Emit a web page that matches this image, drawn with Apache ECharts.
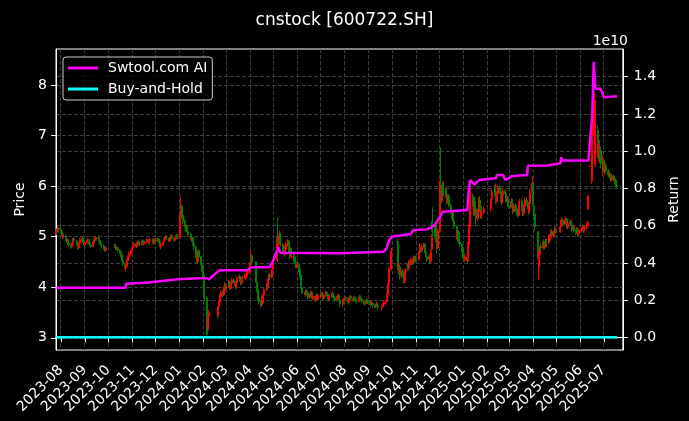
<!DOCTYPE html>
<html><head><meta charset="utf-8">
<script src="https://cdn.jsdelivr.net/npm/echarts@6/dist/echarts.min.js"></script>
<style>html,body{margin:0;padding:0;background:#000;}#c{width:689px;height:421px;}</style>
</head><body><div id="c"></div>
<script>
const titleText = 'cnstock [600722.SH]';
const axisStart = '2023-07-26';
const axisEnd = '2025-07-25';
const marketHolidays = ['2023-09-29','2023-10-02','2023-10-03','2023-10-04','2023-10-05','2023-10-06',
  '2024-01-01','2024-02-09','2024-02-12','2024-02-13','2024-02-14','2024-02-15','2024-02-16',
  '2024-04-04','2024-04-05','2024-05-01','2024-05-02','2024-05-03','2024-06-10','2024-09-16','2024-09-17',
  '2024-10-01','2024-10-02','2024-10-03','2024-10-04','2024-10-07','2025-01-01',
  '2025-01-28','2025-01-29','2025-01-30','2025-01-31','2025-02-03','2025-02-04',
  '2025-04-04','2025-05-01','2025-05-02','2025-05-05','2025-06-02'];

// daily candles [open, close, low, high], one per trading day from 2023-07-26
const candleOHLC = [
// 2023-07
[5.06,5.12,5.03,5.15],[5.12,5.10,5.06,5.16],[5.10,5.18,5.08,5.21],[5.17,5.14,5.10,5.20],
// 2023-08
[5.14,5.10,5.06,5.16],[5.10,5.04,5.00,5.12],[5.04,5.00,4.96,5.06],[5.00,5.03,4.97,5.06],[5.02,4.96,4.93,5.04],
[4.96,4.92,4.88,4.98],[4.92,4.95,4.89,4.98],[4.94,4.88,4.84,4.96],[4.88,4.84,4.80,4.90],[4.84,4.80,4.76,4.86],
[4.80,4.86,4.78,4.89],[4.86,4.92,4.84,4.95],[4.92,4.97,4.90,5.00],[4.96,4.92,4.89,4.99],[4.92,4.87,4.84,4.94],
[4.87,4.83,4.79,4.89],[4.83,4.78,4.74,4.85],[4.78,4.86,4.76,4.90],[4.86,4.93,4.84,4.96],[4.93,4.97,4.90,5.00],
[4.97,4.91,4.88,4.99],[4.91,4.87,4.84,4.93],[4.87,4.84,4.80,4.89],
// 2023-09
[4.84,4.88,4.82,4.91],[4.88,4.92,4.86,4.95],[4.92,4.94,4.89,4.97],[4.94,4.88,4.85,4.96],[4.88,4.83,4.80,4.90],
[4.83,4.81,4.77,4.86],[4.81,4.87,4.79,4.90],[4.87,4.92,4.85,4.95],[4.92,4.96,4.90,4.99],[4.96,4.93,4.90,4.98],
[4.93,4.98,4.91,5.01],[4.98,4.97,4.93,5.03],[4.97,4.92,4.89,4.99],[4.92,4.88,4.85,4.94],[4.88,4.85,4.82,4.90],
[4.85,4.82,4.78,4.87],[4.82,4.78,4.75,4.84],[4.78,4.75,4.71,4.80],[4.75,4.73,4.70,4.78],[4.73,4.78,4.71,4.81],
// 2023-10
[4.80,4.83,4.78,4.86],[4.83,4.80,4.77,4.85],[4.80,4.76,4.73,4.82],[4.76,4.78,4.74,4.81],[4.78,4.73,4.70,4.80],
[4.73,4.69,4.66,4.75],[4.69,4.64,4.60,4.71],[4.64,4.60,4.56,4.66],[4.60,4.53,4.49,4.62],[4.53,4.48,4.43,4.55],
[4.46,4.38,4.32,4.48],[4.38,4.40,4.33,4.44],[4.40,4.52,4.39,4.55],[4.52,4.60,4.50,4.63],[4.60,4.66,4.58,4.70],
[4.66,4.71,4.63,4.74],[4.71,4.76,4.68,4.79],
// 2023-11
[4.76,4.78,4.72,4.81],[4.78,4.82,4.75,4.85],[4.82,4.86,4.79,4.89],[4.86,4.80,4.77,4.88],[4.80,4.86,4.78,4.89],
[4.86,4.90,4.84,4.93],[4.90,4.88,4.85,4.92],[4.88,4.84,4.81,4.90],[4.84,4.87,4.82,4.90],[4.87,4.92,4.85,4.95],
[4.92,4.90,4.87,4.95],[4.90,4.86,4.83,4.92],[4.86,4.89,4.84,4.92],[4.89,4.93,4.87,4.96],[4.93,4.91,4.88,4.96],
[4.91,4.88,4.85,4.93],[4.88,4.92,4.86,4.95],[4.92,4.95,4.90,4.98],[4.95,4.90,4.87,4.97],[4.90,4.87,4.84,4.92],
[4.87,4.91,4.85,4.94],[4.91,4.94,4.89,4.97],
// 2023-12
[4.94,4.92,4.88,4.96],[4.92,4.95,4.90,4.98],[4.95,4.90,4.86,4.97],[4.90,4.86,4.82,4.92],[4.86,4.80,4.75,4.88],
[4.80,4.84,4.78,4.87],[4.84,4.90,4.82,4.93],[4.90,4.95,4.88,4.98],[4.95,4.98,4.92,5.01],[4.98,5.00,4.95,5.03],
[5.00,4.96,4.93,5.02],[4.96,4.92,4.89,4.98],[4.92,4.95,4.90,4.98],[4.95,4.99,4.93,5.02],[4.99,5.02,4.96,5.05],
[5.02,4.97,4.94,5.04],[4.97,4.93,4.90,4.99],[4.93,4.96,4.91,4.99],[4.96,5.00,4.94,5.03],[5.00,5.03,4.98,5.06],
[5.03,4.98,4.95,5.05],
// 2024-01
[4.98,5.45,4.96,5.50],[5.45,5.62,5.35,5.78],[5.60,5.42,5.36,5.65],[5.42,5.30,5.25,5.46],
[5.30,5.22,5.18,5.34],[5.22,5.15,5.10,5.26],[5.15,5.20,5.12,5.24],[5.20,5.10,5.06,5.22],[5.10,5.05,5.00,5.12],
[5.05,5.00,4.96,5.08],[5.00,4.95,4.90,5.03],[4.95,4.98,4.92,5.01],[4.98,4.85,4.82,5.00],[4.85,4.80,4.74,4.88],
[4.80,4.62,4.58,4.82],[4.62,4.50,4.45,4.65],[4.50,4.68,4.48,4.72],[4.68,4.72,4.62,4.75],[4.72,4.60,4.56,4.74],
[4.60,4.45,4.40,4.62],[4.45,4.35,4.30,4.48],[4.35,4.25,4.20,4.38],
// 2024-02
[4.25,4.10,4.02,4.28],[4.10,3.80,3.72,4.12],[3.80,3.30,3.04,3.82],[3.25,3.18,3.06,3.35],[3.18,3.42,3.15,3.48],[3.42,3.50,3.35,3.55],
[3.50,3.45,3.38,3.58],[3.45,3.62,3.42,3.66],[3.62,3.70,3.58,3.74],[3.70,3.82,3.68,3.86],[3.82,3.90,3.78,3.94],
[3.90,3.85,3.80,3.95],[3.85,3.98,3.83,4.02],[3.98,4.05,3.94,4.10],[4.05,3.95,3.92,4.08],
// 2024-03
[3.95,4.02,3.92,4.06],[4.02,4.10,3.99,4.14],[4.10,4.05,4.01,4.13],[4.05,3.98,3.94,4.07],[3.98,4.08,3.96,4.11],
[4.08,4.15,4.06,4.18],[4.15,4.12,4.08,4.18],[4.12,4.05,4.01,4.14],[4.05,4.00,3.96,4.07],[4.00,4.10,3.98,4.13],
[4.10,4.18,4.08,4.21],[4.18,4.22,4.15,4.26],[4.22,4.15,4.11,4.24],[4.15,4.08,4.04,4.17],[4.08,4.12,4.05,4.15],
[4.12,4.20,4.10,4.23],[4.20,4.25,4.17,4.28],[4.25,4.18,4.14,4.27],[4.18,4.22,4.16,4.26],[4.22,4.28,4.20,4.32],
[4.28,4.30,4.24,4.35],
// 2024-04
[4.30,4.45,4.28,4.50],[4.45,4.62,4.42,4.73],[4.62,4.50,4.45,4.65],
[4.50,4.30,4.25,4.52],[4.30,4.10,4.05,4.32],[4.10,3.95,3.90,4.12],[3.95,3.80,3.75,3.98],[3.80,3.72,3.66,3.84],
[3.72,3.65,3.60,3.75],[3.65,3.80,3.62,3.84],[3.80,3.70,3.66,3.83],[3.70,3.85,3.68,3.90],[3.85,3.95,3.82,3.98],
[3.95,4.05,3.92,4.08],[4.05,4.00,3.95,4.08],[4.00,4.15,3.98,4.18],[4.15,4.25,4.12,4.28],[4.25,4.20,4.15,4.28],
[4.20,4.35,4.18,4.38],[4.35,4.50,4.32,4.55],
// 2024-05
[4.55,5.00,4.50,5.10],[5.05,4.90,4.85,5.38],[4.90,4.95,4.80,5.05],[4.95,5.05,4.88,5.12],[5.05,4.85,4.80,5.08],
[4.85,4.70,4.65,4.88],[4.70,4.80,4.66,4.85],[4.80,4.65,4.60,4.83],[4.65,4.75,4.62,4.78],[4.75,4.85,4.72,4.90],
[4.85,4.90,4.80,4.95],[4.90,4.70,4.66,4.93],[4.70,4.60,4.55,4.74],[4.60,4.75,4.58,4.79],[4.75,4.68,4.64,4.78],
[4.68,4.55,4.50,4.70],[4.55,4.60,4.52,4.64],[4.60,4.50,4.46,4.63],[4.50,4.42,4.38,4.53],[4.42,4.45,4.38,4.49],
// 2024-06
[4.45,4.35,4.30,4.48],[4.35,4.25,4.20,4.38],[4.25,4.10,4.05,4.28],[4.10,3.98,3.93,4.12],[3.98,3.90,3.86,4.01],
[3.90,3.85,3.80,3.93],[3.85,3.92,3.83,3.95],[3.92,3.88,3.84,3.95],[3.88,3.80,3.76,3.90],
[3.80,3.86,3.78,3.89],[3.86,3.90,3.83,3.93],[3.90,3.84,3.80,3.92],[3.84,3.78,3.74,3.86],[3.78,3.82,3.75,3.85],
[3.82,3.75,3.71,3.84],[3.75,3.80,3.72,3.83],[3.80,3.85,3.77,3.88],[3.85,3.78,3.74,3.87],[3.78,3.82,3.75,3.85],
// 2024-07
[3.82,3.85,3.79,3.88],[3.85,3.88,3.82,3.91],[3.88,3.82,3.78,3.90],[3.82,3.78,3.74,3.84],[3.78,3.84,3.76,3.87],
[3.84,3.90,3.82,3.93],[3.90,3.86,3.82,3.92],[3.86,3.80,3.76,3.88],[3.80,3.76,3.72,3.82],[3.76,3.82,3.74,3.85],
[3.82,3.85,3.79,3.88],[3.85,3.88,3.82,3.91],[3.88,3.83,3.79,3.90],[3.83,3.79,3.75,3.85],[3.79,3.75,3.71,3.81],
[3.75,3.80,3.72,3.83],[3.80,3.84,3.77,3.87],[3.84,3.78,3.74,3.86],[3.78,3.72,3.68,3.80],[3.72,3.68,3.60,3.74],
[3.68,3.74,3.62,3.77],[3.74,3.70,3.66,3.76],[3.70,3.76,3.68,3.79],
// 2024-08
[3.76,3.80,3.73,3.83],[3.80,3.78,3.74,3.82],[3.78,3.74,3.70,3.80],[3.74,3.70,3.66,3.76],[3.70,3.76,3.68,3.79],
[3.76,3.82,3.74,3.85],[3.82,3.78,3.74,3.84],[3.78,3.75,3.71,3.80],[3.75,3.80,3.73,3.83],[3.80,3.77,3.73,3.82],
[3.77,3.74,3.70,3.79],[3.74,3.72,3.68,3.76],[3.72,3.78,3.70,3.81],[3.78,3.82,3.76,3.85],[3.82,3.79,3.75,3.84],
[3.79,3.76,3.72,3.81],[3.76,3.73,3.69,3.78],[3.73,3.70,3.66,3.75],[3.70,3.68,3.64,3.72],[3.68,3.72,3.66,3.75],
[3.72,3.75,3.69,3.78],[3.75,3.71,3.67,3.77],
// 2024-09
[3.71,3.70,3.66,3.74],[3.70,3.66,3.62,3.72],[3.66,3.70,3.64,3.73],[3.70,3.68,3.64,3.72],[3.68,3.64,3.60,3.70],
[3.64,3.62,3.58,3.66],[3.62,3.65,3.59,3.68],[3.65,3.68,3.62,3.71],[3.68,3.63,3.59,3.70],[3.63,3.60,3.54,3.65],
[3.60,3.62,3.55,3.65],[3.62,3.66,3.59,3.69],[3.66,3.70,3.63,3.73],
[3.70,3.72,3.66,3.75],[3.72,3.80,3.70,3.83],[3.80,3.86,3.76,3.90],[3.86,4.08,3.84,4.12],[4.08,4.35,4.05,4.40],
[4.35,4.72,4.33,4.78],
// 2024-10
[4.90,4.55,4.45,4.95],[4.55,4.35,4.25,4.60],[4.35,4.40,4.28,4.48],[4.40,4.22,4.15,4.45],
[4.22,4.30,4.18,4.34],[4.30,4.25,4.20,4.36],[4.25,4.12,4.07,4.28],[4.12,4.15,4.08,4.20],[4.15,4.35,4.12,4.38],
[4.35,4.42,4.32,4.47],[4.42,4.38,4.33,4.46],[4.38,4.50,4.36,4.54],[4.50,4.45,4.40,4.53],[4.45,4.55,4.43,4.58],
[4.55,4.48,4.44,4.58],[4.48,4.60,4.46,4.63],[4.60,4.52,4.48,4.62],[4.52,4.58,4.50,4.62],
// 2024-11
[4.58,4.55,4.50,4.62],
[4.55,4.62,4.52,4.66],[4.62,4.70,4.60,4.74],[4.70,4.80,4.68,4.87],[4.80,4.72,4.68,4.82],[4.72,4.80,4.70,4.84],
[4.80,4.85,4.76,4.88],[4.85,4.75,4.70,4.87],[4.75,4.68,4.64,4.78],[4.68,4.60,4.56,4.70],[4.60,4.55,4.50,4.63],
[4.55,4.62,4.52,4.66],[4.62,4.50,4.46,4.64],[4.50,4.70,4.48,4.74],[4.75,4.98,4.72,5.05],[5.30,5.10,5.00,5.58],
[5.10,5.05,4.98,5.22],[5.05,5.20,5.00,5.26],[5.20,4.90,4.85,5.24],[4.90,4.78,4.67,4.95],[4.78,5.10,4.75,5.15],
// 2024-12
[5.10,5.85,5.08,6.11],[6.00,5.70,5.60,6.77],[5.70,5.95,5.65,6.02],[5.95,6.05,5.85,6.10],[6.05,5.85,5.80,6.08],
[5.85,5.92,5.78,5.98],[5.92,5.78,5.72,5.96],[5.78,5.70,5.64,5.82],[5.70,5.80,5.66,5.84],[5.80,5.62,5.58,5.84],
[5.62,5.50,5.46,5.65],[5.50,5.40,5.35,5.53],[5.40,5.45,5.36,5.50],[5.45,5.30,5.25,5.48],[5.30,5.20,5.15,5.33],
[5.20,5.05,5.00,5.23],[5.05,4.95,4.90,5.08],[4.95,5.10,4.92,5.14],[5.10,4.90,4.86,5.12],[4.90,4.85,4.80,4.93],
[4.85,4.75,4.70,4.88],[4.75,4.62,4.58,4.78],
// 2025-01
[4.62,4.55,4.50,4.68],[4.55,4.60,4.50,4.65],
[4.60,4.52,4.47,4.63],[4.52,4.85,4.50,4.90],[4.85,5.20,4.82,5.25],[5.20,5.55,5.18,5.62],[5.55,5.80,5.50,5.97],
[5.80,5.65,5.58,5.85],[5.65,5.45,5.40,5.70],[5.45,5.70,5.42,5.75],[5.70,5.55,5.50,5.78],[5.55,5.35,5.20,5.60],
[5.35,5.50,5.30,5.55],[5.50,5.72,5.46,5.78],[5.72,5.60,5.55,5.80],[5.60,5.40,5.35,5.65],[5.40,5.48,5.36,5.52],
[5.48,5.55,5.44,5.60],
// 2025-02
[5.55,5.62,5.50,5.68],[5.62,5.75,5.58,5.80],[5.75,5.88,5.72,5.95],
[5.88,5.95,5.84,6.02],[5.95,5.80,5.76,6.05],[5.80,5.70,5.65,5.84],[5.70,5.85,5.66,5.90],[5.85,5.98,5.82,6.03],
[5.98,5.90,5.85,6.02],[5.90,5.75,5.70,5.93],[5.75,5.68,5.62,5.78],[5.68,5.82,5.65,5.86],[5.82,5.90,5.78,5.95],
[5.90,5.85,5.80,5.94],[5.85,5.72,5.68,5.88],[5.72,5.78,5.68,5.82],[5.78,5.65,5.60,5.80],[5.65,5.60,5.55,5.68],
// 2025-03
[5.60,5.65,5.55,5.70],[5.65,5.72,5.60,5.76],[5.72,5.58,5.54,5.75],[5.58,5.50,5.45,5.62],[5.50,5.62,5.48,5.66],
[5.62,5.55,5.50,5.66],[5.55,5.48,5.42,5.58],[5.48,5.42,5.38,5.52],[5.42,5.60,5.40,5.64],[5.60,5.70,5.56,5.75],
[5.70,5.65,5.60,5.76],[5.65,5.52,5.48,5.68],[5.52,5.45,5.40,5.56],[5.45,5.60,5.42,5.64],[5.60,5.72,5.56,5.78],
[5.72,5.68,5.62,5.78],[5.68,5.58,5.54,5.72],[5.58,5.50,5.44,5.62],[5.50,5.65,5.45,5.70],[5.65,5.85,5.60,5.93],
[5.85,6.05,5.80,6.19],
// 2025-04
[6.05,5.60,5.52,6.08],[5.60,5.45,5.40,5.65],[5.45,5.20,5.12,5.50],
[5.10,4.60,4.55,5.10],[4.40,4.55,4.15,4.70],[4.55,4.70,4.50,4.78],[4.70,4.80,4.65,4.86],[4.80,4.78,4.72,4.85],
[4.78,4.90,4.75,4.95],[4.90,4.85,4.80,4.94],[4.85,4.80,4.75,4.88],[4.80,4.92,4.78,4.96],[4.92,4.88,4.84,4.96],
[4.88,5.00,4.85,5.04],[5.00,4.95,4.90,5.04],[4.95,5.05,4.92,5.10],[5.05,5.10,5.00,5.14],[5.10,5.02,4.98,5.14],
[5.02,5.08,4.98,5.12],[5.08,5.15,5.04,5.20],[5.15,5.10,5.06,5.19],
// 2025-05
[5.10,5.20,5.08,5.25],[5.20,5.28,5.16,5.33],[5.28,5.32,5.24,5.38],[5.32,5.25,5.20,5.36],
[5.25,5.30,5.22,5.35],[5.30,5.35,5.26,5.40],[5.35,5.22,5.18,5.37],[5.22,5.18,5.14,5.26],[5.18,5.25,5.15,5.29],
[5.25,5.30,5.21,5.34],[5.30,5.22,5.18,5.33],[5.22,5.15,5.10,5.25],[5.15,5.20,5.12,5.24],[5.20,5.12,5.08,5.23],
[5.12,5.08,5.03,5.15],[5.08,5.15,5.05,5.19],[5.15,5.10,5.06,5.18],[5.10,5.05,5.00,5.13],[5.05,5.12,5.02,5.16],
// 2025-06
[5.12,5.15,5.08,5.19],[5.15,5.20,5.12,5.24],[5.20,5.12,5.08,5.23],[5.12,5.18,5.10,5.22],
[5.18,5.22,5.14,5.26],[5.22,5.28,5.18,5.32],[5.55,5.81,5.52,5.81],[6.39,6.39,6.39,6.39],[7.03,7.03,7.03,7.03],
[6.10,7.05,6.05,7.07],[7.00,7.60,6.90,7.75],[7.40,7.80,7.20,7.90],[7.20,7.70,6.75,7.88],[6.45,7.30,6.38,7.70],
[7.10,6.70,6.55,7.20],[6.60,6.95,6.50,7.00],[6.90,6.60,6.50,6.98],[6.55,6.75,6.45,6.85],[6.70,6.45,6.35,6.78],
[6.40,6.50,6.20,6.60],
// 2025-07
[6.50,6.35,6.30,6.55],[6.35,6.28,6.22,6.42],[6.28,6.40,6.25,6.45],[6.40,6.30,6.26,6.44],
[6.30,6.22,6.18,6.34],[6.22,6.25,6.16,6.30],[6.25,6.18,6.14,6.28],[6.18,6.12,6.08,6.22],[6.12,6.20,6.10,6.24],
[6.20,6.15,6.10,6.23],[6.15,6.08,6.04,6.18],[6.08,6.12,6.02,6.15],[6.12,6.02,5.98,6.14],[6.02,6.00,5.95,6.06]
];

// strategy return (units of 1e10), vertices of the line
const strategyDates = ['2023-07-26','2023-10-23','2023-10-24','2023-11-22','2023-12-29','2024-01-26','2024-02-05','2024-02-08',
  '2024-02-21','2024-03-29','2024-04-02','2024-04-26','2024-04-30','2024-05-06','2024-05-07','2024-05-10','2024-07-25',
  '2024-09-20','2024-09-24','2024-09-26','2024-09-30','2024-10-25','2024-10-28','2024-11-15','2024-11-20','2024-11-25',
  '2024-11-28','2024-12-02','2024-12-05','2025-01-06','2025-01-07','2025-01-09','2025-01-10','2025-01-15','2025-01-17',
  '2025-01-21','2025-02-12','2025-02-13','2025-02-21','2025-02-24','2025-02-26','2025-03-04','2025-03-21','2025-03-24',
  '2025-03-25','2025-04-17','2025-04-18','2025-05-06','2025-05-07','2025-05-08','2025-06-11','2025-06-16','2025-06-18',
  '2025-06-20','2025-06-27','2025-07-01','2025-07-02','2025-07-18'];
const strategyValues = [0.266,0.266,0.288,0.295,0.312,0.317,0.318,0.312,
  0.360,0.361,0.377,0.377,0.405,0.470,0.485,0.455,0.452,
  0.460,0.478,0.510,0.540,0.555,0.576,0.580,0.590,0.603,
  0.625,0.650,0.675,0.684,0.755,0.830,0.845,0.820,0.820,
  0.845,0.855,0.872,0.872,0.845,0.850,0.865,0.872,0.870,
  0.922,0.922,0.932,0.935,0.968,0.950,0.950,1.190,1.480,
  1.335,1.335,1.290,1.300,1.295];
const buyHoldDates = ['2023-07-26','2025-07-18'];
const buyHoldValues = [0, 0];
const priceTicks = [3,4,5,6,7,8];
const returnTicks = [0,0.2,0.4,0.6,0.8,1.0,1.2,1.4];

// calendar-day categories
const DAY = 86400000;
const days = [];
for (let t = Date.parse(axisStart + 'T00:00:00Z'); t <= Date.parse(axisEnd + 'T00:00:00Z'); t += DAY) {
  days.push(new Date(t).toISOString().slice(0, 10));
}
const hol = new Set(marketHolidays);
const tradingDays = days.filter(d => {
  const wd = new Date(d + 'T00:00:00Z').getUTCDay();
  return wd !== 0 && wd !== 6 && !hol.has(d);
});
const candleData = candleOHLC.map((v, i) => [tradingDays[i], v[0], v[1], v[2], v[3]]);
const isMonthStart = (i, v) => v.slice(8) === '01';

const white = '#ffffff';
const gridLine = {show: true, lineStyle: {color: '#4d4d4d', type: [4, 2], width: 0.8}};
const font = 'DejaVu Sans';

const chart = echarts.init(document.getElementById('c'), null, {renderer: 'canvas'});
chart.setOption({
  backgroundColor: '#000',
  animation: false,
  textStyle: {fontFamily: font},
  title: {text: titleText, left: 'center', top: 7,
    textStyle: {color: white, fontSize: 17, fontWeight: 'normal', fontFamily: font}},
  legend: {orient: 'vertical', left: 63, top: 57, itemWidth: 30, itemHeight: 3, itemGap: 7, icon: 'rect',
    padding: [4, 5, 4, 5], borderColor: '#cccccc', borderWidth: 1, borderRadius: 3,
    backgroundColor: 'rgba(0,0,0,0.8)',
    textStyle: {color: white, fontSize: 14, fontFamily: font, padding: [0, 0, 0, 5]},
    data: ['Swtool.com AI', 'Buy-and-Hold']},
  graphic: [{type: 'text', right: 61, top: 34, style: {text: '1e10', fill: white, font: '14px "DejaVu Sans"'}}],
  grid: {left: 56, right: 61, top: 49, bottom: 71, show: true, borderColor: white, borderWidth: 1,
    backgroundColor: 'transparent'},
  xAxis: {type: 'category', data: days, boundaryGap: true,
    axisLine: {show: true, lineStyle: {color: white}},
    axisTick: {show: true, interval: isMonthStart, alignWithLabel: true, length: 5, lineStyle: {color: white}},
    axisLabel: {interval: isMonthStart, formatter: v => v.slice(0, 7), rotate: 45, color: white, fontSize: 14,
      fontFamily: font, margin: 18},
    splitLine: Object.assign({interval: isMonthStart}, gridLine)},
  yAxis: [
    {type: 'value', position: 'left', min: 2.76, max: 8.71, name: 'Price', nameLocation: 'middle', nameGap: 24,
      nameRotate: 90, nameTextStyle: {color: white, fontSize: 14, fontFamily: font},
      axisLine: {show: true, lineStyle: {color: white}},
      axisTick: {show: true, length: 5, customValues: priceTicks, lineStyle: {color: white}},
      axisLabel: {customValues: priceTicks, color: white, fontSize: 14, fontFamily: font, margin: 9},
      splitLine: gridLine},
    {type: 'value', position: 'right', min: -0.068, max: 1.549, splitNumber: 8, name: 'Return',
      nameLocation: 'middle', nameGap: 38, nameRotate: 90,
      nameTextStyle: {color: white, fontSize: 14, fontFamily: font},
      axisLine: {show: true, lineStyle: {color: white}},
      axisTick: {show: true, length: 5, customValues: returnTicks, lineStyle: {color: white}},
      axisLabel: {customValues: returnTicks, color: white, fontSize: 14, fontFamily: font, margin: 11,
        formatter: v => v.toFixed(1)},
      splitLine: gridLine}
  ],
  series: [
    {type: 'candlestick', name: 'price', data: candleData, encode: {x: 0, y: [1, 2, 3, 4]},
      barWidth: 1.5, z: 2,
      itemStyle: {color: '#ff0000', color0: '#008000', borderColor: '#ff0000', borderColor0: '#008000', borderWidth: 1}},
    {type: 'line', name: 'Swtool.com AI', yAxisIndex: 1, z: 5, showSymbol: false, symbol: 'none',
      data: strategyDates.map((d, i) => [d, strategyValues[i]]),
      lineStyle: {color: '#ff00ff', width: 2.5}, itemStyle: {color: '#ff00ff'}},
    {type: 'line', name: 'Buy-and-Hold', yAxisIndex: 1, z: 5, showSymbol: false, symbol: 'none',
      data: buyHoldDates.map((d, i) => [d, buyHoldValues[i]]),
      lineStyle: {color: '#00ffff', width: 2.5}, itemStyle: {color: '#00ffff'}}
  ]
});
</script></body></html>
